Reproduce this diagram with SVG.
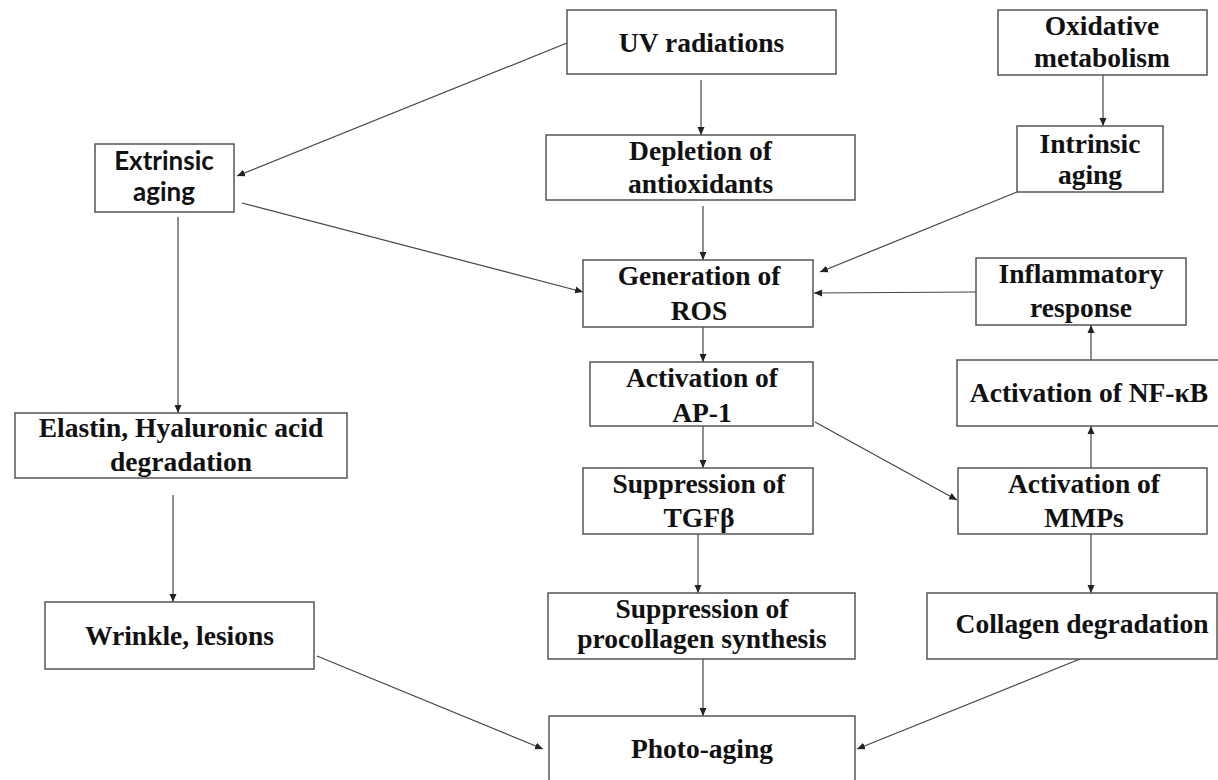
<svg xmlns="http://www.w3.org/2000/svg" width="1218" height="780" viewBox="0 0 1218 780">
<style>
.box{fill:#fff;stroke:#555;stroke-width:1.5}
.t{font-family:"Liberation Serif","Times New Roman",serif;font-weight:bold;font-size:27.5px;fill:#111;text-anchor:middle}
.s{font-family:Lato,"Liberation Sans",sans-serif;font-weight:bold;font-size:26px;fill:#111;text-anchor:middle}
.c{fill:none;stroke:#444;stroke-width:1.2;marker-end:url(#ah)}
</style>
<defs>
<marker id="ah" markerUnits="userSpaceOnUse" markerWidth="9" markerHeight="8" refX="8" refY="4" orient="auto">
<path d="M0,0.5 L8,4 L0,7.5 z" fill="#222"/>
</marker>
</defs>
<rect width="1218" height="780" fill="#fff"/>
<g id="connectors">
<line class="c" x1="567" y1="43" x2="237" y2="176"/>
<line class="c" x1="701" y1="80" x2="701" y2="135"/>
<line class="c" x1="703" y1="206" x2="703" y2="260"/>
<line class="c" x1="242" y1="203" x2="583" y2="292"/>
<line class="c" x1="1103" y1="75" x2="1103" y2="126"/>
<line class="c" x1="1017" y1="192" x2="820" y2="272"/>
<line class="c" x1="976" y1="292" x2="814" y2="293"/>
<line class="c" x1="703" y1="327" x2="703" y2="362"/>
<line class="c" x1="703" y1="415" x2="703" y2="468"/>
<line class="c" x1="815" y1="422" x2="957" y2="500"/>
<line class="c" x1="1091" y1="468" x2="1091" y2="426"/>
<line class="c" x1="1091" y1="360" x2="1091" y2="325"/>
<line class="c" x1="1091" y1="534" x2="1091" y2="593"/>
<line class="c" x1="698" y1="534" x2="698" y2="593"/>
<line class="c" x1="703" y1="656" x2="703" y2="716"/>
<line class="c" x1="178" y1="217" x2="178" y2="413"/>
<line class="c" x1="173" y1="495" x2="173" y2="602"/>
<line class="c" x1="317" y1="656" x2="543" y2="749"/>
<line class="c" x1="1080" y1="659" x2="857" y2="749"/>
</g>
<g id="uv"><rect class="box" x="567" y="10" width="269" height="64"/><text class="t" x="701.5" y="52">UV radiations</text></g>
<g id="oxidative"><rect class="box" x="998" y="10" width="209" height="65"/><text class="t" x="1102" y="35">Oxidative</text><text class="t" x="1102" y="67">metabolism</text></g>
<g id="depletion"><rect class="box" x="546" y="135" width="309" height="65"/><text class="t" x="700.5" y="160">Depletion of</text><text class="t" x="700.5" y="193">antioxidants</text></g>
<g id="intrinsic"><rect class="box" x="1017" y="126" width="146" height="66"/><text class="t" x="1090" y="153">Intrinsic</text><text class="t" x="1090" y="184">aging</text></g>
<g id="extrinsic"><rect class="box" x="95" y="144" width="139" height="68"/><text class="s" x="164" y="170">Extrinsic</text><text class="s" x="164" y="201">aging</text></g>
<g id="ros"><rect class="box" x="583" y="260" width="230" height="67"/><text class="t" x="699" y="285">Generation of</text><text class="t" x="699" y="320">ROS</text></g>
<g id="inflammatory"><rect class="box" x="976" y="258" width="210" height="67"/><text class="t" x="1081" y="283">Inflammatory</text><text class="t" x="1081" y="317">response</text></g>
<g id="ap1"><rect class="box" x="590" y="362" width="223" height="64"/><text class="t" x="702" y="387">Activation of</text><text class="t" x="702" y="422">AP-1</text></g>
<g id="nfkb"><rect class="box" x="957" y="360" width="264" height="66"/><text class="t" x="1089" y="402">Activation of NF-κB</text></g>
<g id="elastin"><rect class="box" x="15" y="413" width="332" height="65"/><text class="t" x="181" y="437">Elastin, Hyaluronic acid</text><text class="t" x="181" y="471">degradation</text></g>
<g id="tgfb"><rect class="box" x="583" y="468" width="230" height="66"/><text class="t" x="699" y="493">Suppression of</text><text class="t" x="699" y="527">TGFβ</text></g>
<g id="mmps"><rect class="box" x="958" y="468" width="249" height="66"/><text class="t" x="1084" y="493">Activation of</text><text class="t" x="1084" y="527">MMPs</text></g>
<g id="procollagen"><rect class="box" x="548" y="593" width="307" height="66"/><text class="t" x="702" y="618">Suppression of</text><text class="t" x="702" y="648">procollagen synthesis</text></g>
<g id="collagen"><rect class="box" x="927" y="593" width="290" height="66"/><text class="t" x="1082" y="633">Collagen degradation</text></g>
<g id="wrinkle"><rect class="box" x="45" y="602" width="269" height="67"/><text class="t" x="179.5" y="645">Wrinkle, lesions</text></g>
<g id="photo"><rect class="box" x="549" y="716" width="306" height="80"/><text class="t" x="702" y="758">Photo-aging</text></g>
</svg>
